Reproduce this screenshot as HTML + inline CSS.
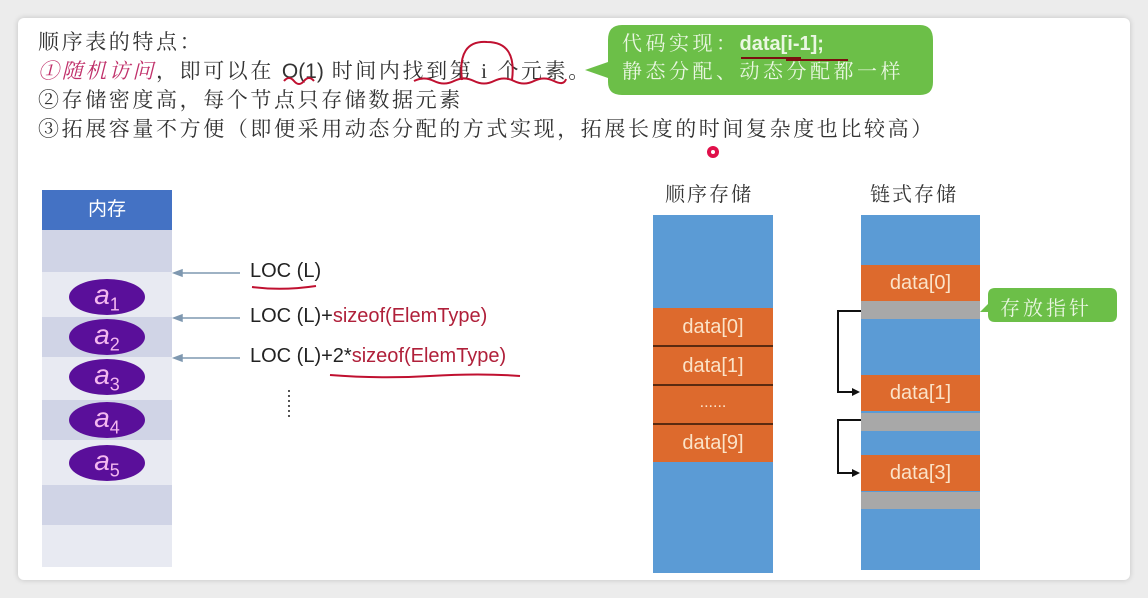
<!DOCTYPE html>
<html><head><meta charset="utf-8"><style>
html,body{margin:0;padding:0;width:1148px;height:598px;background:#ececec;overflow:hidden;}
.card{position:absolute;left:18px;top:18px;width:1112px;height:562px;background:#fff;border-radius:6px;box-shadow:0 0 6px rgba(0,0,0,.18);}
.t{position:absolute;font-family:"Liberation Serif","Noto Serif CJK SC",serif;font-size:21px;color:#333;white-space:nowrap;letter-spacing:2.6px;}
.s{font-family:"Liberation Sans","Noto Sans CJK SC",sans-serif;letter-spacing:0;}
.a{position:absolute;}
.row{position:absolute;left:42px;width:130px;}
.ell{position:absolute;left:69px;width:76px;height:36px;border-radius:50%;background:#5a0f9a;color:#f4b8f0;font-family:"Liberation Sans",sans-serif;font-style:italic;font-size:28px;text-align:center;line-height:32px;}
.ell sub{font-size:18px;font-style:normal;}
.lbl{position:absolute;left:250px;font-family:"Liberation Sans",sans-serif;font-size:20px;color:#222;white-space:nowrap;}
.r{color:#b0203a;}
.blk{position:absolute;background:#dd6a2d;color:#fbe3c8;font-family:"Liberation Sans",sans-serif;font-size:20px;text-align:center;}
.g{position:absolute;background:#a8a8a8;}
</style></head><body>
<div class="card"></div>
<div class="t" style="left:38px;top:26px;">顺序表的特点：</div>
<div class="t" style="left:38px;top:55px;"><span style="color:#c0306a;font-style:italic">①随机访问</span>，即可以在 <span class="s">O(1)</span> 时间内找到第 i 个元素。</div>
<div class="t" style="left:38px;top:84px;">②存储密度高，每个节点只存储数据元素</div>
<div class="t" style="left:38px;top:113px;">③拓展容量不方便（即便采用动态分配的方式实现，拓展长度的时间复杂度也比较高）</div>
<svg class="a" style="left:0;top:0" width="1148" height="598">
<path d="M284 81 q5 -6 10 0 t10 0 t10 0 M414 81 q10 -5 20 0 t20 0 t20 0 t20 0 t20 0 t20 0 t20 0 t12 -2" stroke="#c01030" stroke-width="2" fill="none"/>
<path d="M462 80 q-5 -40 25 -38 q30 0 25 38" stroke="#c01030" stroke-width="2" fill="none"/>
<path d="M608 40 Q608 25 622 25 L920 25 Q933 25 933 40 L933 82 Q933 95 920 95 L622 95 Q608 95 608 82 L608 78 L585 70 L608 62 Z" fill="#6cbf48"/>
<circle cx="713" cy="152" r="6" fill="#e0104a"/><circle cx="713" cy="152" r="2" fill="#fff"/>
</svg>
<div class="a" style="left:622px;top:30px;font-family:'Liberation Serif','Noto Serif CJK SC',serif;font-size:20px;letter-spacing:3.5px;color:#eaf7e2;line-height:28px;white-space:nowrap;">代码实现：<span class="s" style="font-weight:bold;font-size:20px">data[i-1];</span><br>静态分配、动态分配都一样</div>
<svg class="a" style="left:0;top:0" width="1148" height="598"><path d="M741 58 h60 M786 60 h62" stroke="#7a1010" stroke-width="2"/></svg>

<div class="row" style="top:190px;height:40px;background:#4472c4;color:#fff;font-family:'Liberation Sans','Noto Sans CJK SC',sans-serif;font-size:19px;text-align:center;line-height:40px;">内存</div>
<div class="row" style="top:230px;height:42px;background:#d0d4e6"></div>
<div class="row" style="top:272px;height:45px;background:#e8eaf2"></div>
<div class="row" style="top:317px;height:40px;background:#d0d4e6"></div>
<div class="row" style="top:357px;height:43px;background:#e8eaf2"></div>
<div class="row" style="top:400px;height:40px;background:#d0d4e6"></div>
<div class="row" style="top:440px;height:45px;background:#e8eaf2"></div>
<div class="row" style="top:485px;height:40px;background:#d0d4e6"></div>
<div class="row" style="top:525px;height:42px;background:#e8eaf2"></div>
<div class="ell" style="top:279px">a<sub>1</sub></div>
<div class="ell" style="top:319px">a<sub>2</sub></div>
<div class="ell" style="top:359px">a<sub>3</sub></div>
<div class="ell" style="top:402px">a<sub>4</sub></div>
<div class="ell" style="top:445px">a<sub>5</sub></div>
<svg class="a" style="left:0;top:0" width="1148" height="598">
<g stroke="#7f98b0" stroke-width="1.5" fill="#7f98b0">
<line x1="240" y1="273" x2="180" y2="273"/><path d="M174 273 l8 -3 v6z"/>
<line x1="240" y1="318" x2="180" y2="318"/><path d="M174 318 l8 -3 v6z"/>
<line x1="240" y1="358" x2="180" y2="358"/><path d="M174 358 l8 -3 v6z"/>
</g>
<line x1="289" y1="390" x2="289" y2="420" stroke="#555" stroke-width="2" stroke-dasharray="2 3"/>
<path d="M252 287 q30 4 64 -1" stroke="#c01030" stroke-width="2" fill="none"/>
<path d="M330 375 q50 4 100 1 t90 0" stroke="#c01030" stroke-width="2" fill="none"/>
</svg>
<div class="lbl" style="top:260px">LOC (L)</div>
<div class="lbl" style="top:305px">LOC (L)+<span class="r">sizeof(ElemType)</span></div>
<div class="lbl" style="top:345px">LOC (L)+2*<span class="r">sizeof(ElemType)</span></div>

<div class="t" style="left:665px;top:178px;font-size:20px;letter-spacing:2px">顺序存储</div>
<div class="a" style="left:653px;top:215px;width:120px;height:358px;background:#5b9bd5"></div>
<div class="blk" style="left:653px;top:308px;width:120px;height:38px;line-height:38px">data[0]</div>
<div class="blk" style="left:653px;top:347px;width:120px;height:38px;line-height:38px">data[1]</div>
<div class="blk" style="left:653px;top:386px;width:120px;height:38px;line-height:34px;font-size:16px">......</div>
<div class="blk" style="left:653px;top:425px;width:120px;height:37px;line-height:37px">data[9]</div>
<div class="a" style="left:653px;top:345px;width:120px;height:2px;background:#5a2a10"></div>
<div class="a" style="left:653px;top:384px;width:120px;height:2px;background:#5a2a10"></div>
<div class="a" style="left:653px;top:423px;width:120px;height:2px;background:#5a2a10"></div>

<div class="t" style="left:870px;top:178px;font-size:20px;letter-spacing:2px">链式存储</div>
<div class="a" style="left:861px;top:215px;width:119px;height:355px;background:#5b9bd5"></div>
<div class="blk" style="left:861px;top:265px;width:119px;height:36px;line-height:36px">data[0]</div>
<div class="g" style="left:861px;top:301px;width:119px;height:18px"></div>
<div class="blk" style="left:861px;top:375px;width:119px;height:36px;line-height:36px">data[1]</div>
<div class="g" style="left:861px;top:413px;width:119px;height:18px"></div>
<div class="blk" style="left:861px;top:455px;width:119px;height:36px;line-height:36px">data[3]</div>
<div class="g" style="left:861px;top:492px;width:119px;height:17px"></div>
<svg class="a" style="left:0;top:0" width="1148" height="598">
<path d="M861 311 H838 V392 H853" stroke="#111" stroke-width="2" fill="none"/><path d="M860 392 l-8 -4 v8z" fill="#111"/>
<path d="M861 420 H838 V473 H853" stroke="#111" stroke-width="2" fill="none"/><path d="M860 473 l-8 -4 v8z" fill="#111"/>
<path d="M995 288 H1110 Q1117 288 1117 295 V315 Q1117 322 1110 322 H995 Q988 322 988 315 V312 L980 312 L988 304 V295 Q988 288 995 288 Z" fill="#6cbf48"/>
</svg>
<div class="a" style="left:1000px;top:292px;font-family:'Liberation Serif','Noto Serif CJK SC',serif;font-size:20px;color:#eaf7e2;white-space:nowrap;letter-spacing:3px">存放指针</div>
</body></html>
